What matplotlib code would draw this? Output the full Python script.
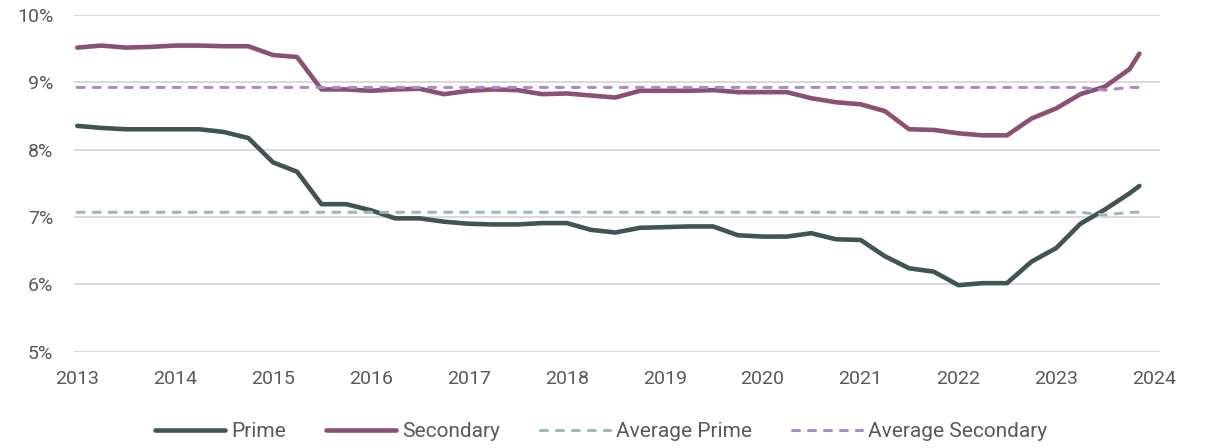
import numpy as np
import pandas as pd
import matplotlib
matplotlib.use("Agg")
import matplotlib.pyplot as plt

# Quarterly yields, plus the latest reading in November 2023
dates = list(pd.date_range("2013-01-01", periods=44, freq="QS")) + [pd.Timestamp("2023-11-07")]

prime = [8.35, 8.32, 8.30, 8.30, 8.30, 8.30, 8.26, 8.17, 7.81, 7.67, 7.19, 7.19,
         7.10, 6.98, 6.98, 6.93, 6.90, 6.89, 6.89, 6.91, 6.91, 6.81, 6.77,
         6.84, 6.85, 6.86, 6.86, 6.73, 6.71, 6.71, 6.76, 6.67, 6.66,
         6.42, 6.24, 6.19, 5.99, 6.02, 6.02, 6.34, 6.54, 6.90, 7.11, 7.35,
         7.46]
secondary = [9.51, 9.54, 9.51, 9.52, 9.54, 9.54, 9.53, 9.53, 9.40, 9.37, 8.89, 8.89,
             8.87, 8.89, 8.90, 8.82, 8.87, 8.89, 8.88, 8.82, 8.83, 8.80, 8.77,
             8.87, 8.87, 8.87, 8.88, 8.85, 8.85, 8.85, 8.76, 8.70, 8.67,
             8.57, 8.30, 8.29, 8.24, 8.21, 8.21, 8.46, 8.61, 8.82, 8.93, 9.19,
             9.42]
avg_prime = [7.07] * 42 + [7.03, 7.07, 7.07]
avg_secondary = [8.92] * 42 + [8.88, 8.92, 8.92]

years = list(range(2013, 2025))

c_prime = "#405455"
c_secondary = "#8b5074"
c_avg_prime = "#9bb9b7"
c_avg_secondary = "#a98bc6"
c_text = "#595959"

plt.rcParams["font.family"] = ["Roboto", "DejaVu Sans"]
plt.rcParams["lines.scale_dashes"] = False

fig = plt.figure(figsize=(12.08, 4.48), dpi=100)
ax = fig.add_axes([0.0613, 0.2143, 0.899, 0.7533])

ax.plot(dates, prime, color=c_prime, lw=3.3, solid_capstyle="round",
        solid_joinstyle="round", label="Prime", zorder=3)
ax.plot(dates, secondary, color=c_secondary, lw=3.3, solid_capstyle="round",
        solid_joinstyle="round", label="Secondary", zorder=3)
ax.plot(dates, avg_prime, color=c_avg_prime, lw=2.2, linestyle=(0, (5, 6.5)),
        dash_capstyle="round", label="Average Prime", zorder=4)
ax.plot(dates, avg_secondary, color=c_avg_secondary, lw=2.2, linestyle=(0, (5, 6.5)),
        dash_capstyle="round", label="Average Secondary", zorder=4)

ax.set_ylim(5, 10)
ax.set_yticks([5, 6, 7, 8, 9, 10])
ax.set_yticklabels([f"{v}%" for v in range(5, 11)])
ax.set_xlim(pd.Timestamp("2012-12-20"), pd.Timestamp("2024-01-23"))
ax.set_xticks([pd.Timestamp(f"{y}-01-01") for y in years])
ax.set_xticklabels([str(y) for y in years])

ax.grid(axis="y", color="#d9d9d9", lw=1.4)
ax.set_axisbelow(True)
for s in ax.spines.values():
    s.set_visible(False)
ax.tick_params(axis="both", length=0, labelsize=14, labelcolor=c_text)
ax.tick_params(axis="y", pad=15)
ax.tick_params(axis="x", pad=13)

leg = ax.legend(loc="center", bbox_to_anchor=(0.485, -0.237), ncol=4, frameon=False,
                fontsize=15, handlelength=3.36, handletextpad=0.29, columnspacing=1.92)
for t in leg.get_texts():
    t.set_color(c_text)

fig.savefig("out.png", dpi=100)
